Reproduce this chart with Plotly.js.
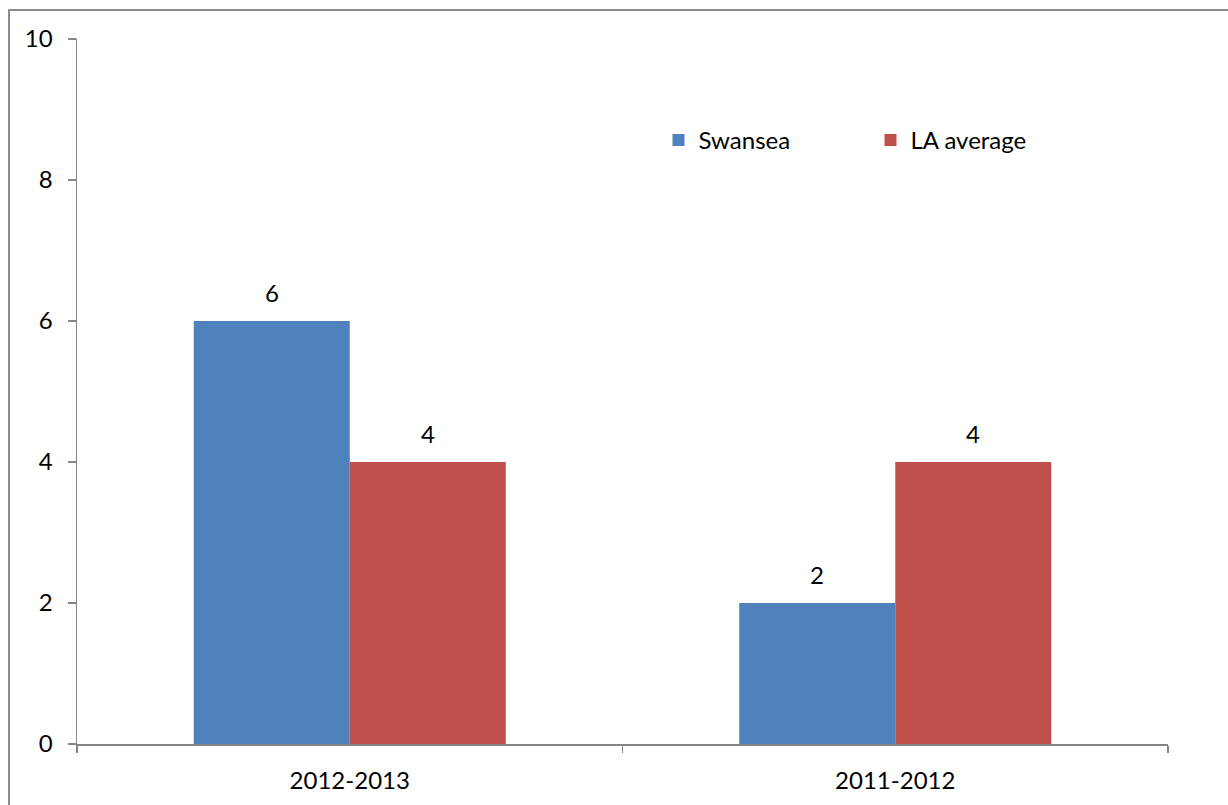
<!DOCTYPE html>
<html>
<head>
<meta charset="utf-8">
<script src="https://cdn.plot.ly/plotly-3.0.1.min.js"></script>
<style>
html,body{margin:0;padding:0;background:#fff;overflow:hidden;}
#frame{position:absolute;left:8px;top:9px;width:1240px;height:820px;border:2px solid #8c8c8c;box-sizing:border-box;pointer-events:none;z-index:5;}
#chart{position:absolute;left:0;top:0;width:1228px;height:805px;}
</style>
</head>
<body>
<div id="chart"></div>
<div id="frame"></div>
<script>
const categories = ["2012-2013", "2011-2012"];
const swansea = [6, 2];
const laAverage = [4, 4];
const yTicks = [0, 2, 4, 6, 8, 10];

const font = {family: "Lato, 'Noto Sans', sans-serif", size: 24, color: "#000"};
const axisColor = "#868686";

const traces = [
  {type: "bar", name: "Swansea", x: categories, y: swansea,
   marker: {color: "#4F81BD", line: {width: 0}}, hoverinfo: "none"},
  {type: "bar", name: "LA average", x: categories, y: laAverage,
   marker: {color: "#C0504D", line: {width: 0}}, hoverinfo: "none"}
];

const annotations = [];
const off = 0.143;
categories.forEach((c, i) => {
  annotations.push({x: i - off, y: swansea[i], xref: "x", yref: "y", text: String(swansea[i]),
    showarrow: false, yanchor: "bottom", yshift: 12, font: font});
  annotations.push({x: i + off, y: laAverage[i], xref: "x", yref: "y", text: String(laAverage[i]),
    showarrow: false, yanchor: "bottom", yshift: 12, font: font});
});

const layout = {
  width: 1228, height: 805,
  margin: {l: 77, r: 60, t: 39, b: 61},
  paper_bgcolor: "#fff", plot_bgcolor: "#fff",
  font: font,
  barmode: "group",
  bargap: 0.428, bargroupgap: 0,
  showlegend: true,
  legend: {orientation: "h", x: 0.533, y: 0.856, xanchor: "left", yanchor: "middle",
    entrywidth: 167, entrywidthmode: "pixels", font: font, bgcolor: "rgba(0,0,0,0)"},
  xaxis: {type: "category", showgrid: false, zeroline: false, showline: true,
    linecolor: axisColor, linewidth: 1.5, ticks: "outside", tickson: "boundaries",
    ticklen: 7, tickcolor: axisColor, tickwidth: 1.5, tickfont: font, ticklabelstandoff: 15},
  yaxis: {range: [0, 10], tickvals: yTicks, ticktext: yTicks.map(String), showgrid: false,
    zeroline: false, showline: true, linecolor: axisColor, linewidth: 1.5, ticks: "outside",
    ticklen: 8, tickcolor: axisColor, tickwidth: 1.5, tickfont: font, ticklabelstandoff: 10},
  annotations: annotations
};

Plotly.newPlot("chart", traces, layout, {staticPlot: true, displayModeBar: false});
</script>
</body>
</html>
